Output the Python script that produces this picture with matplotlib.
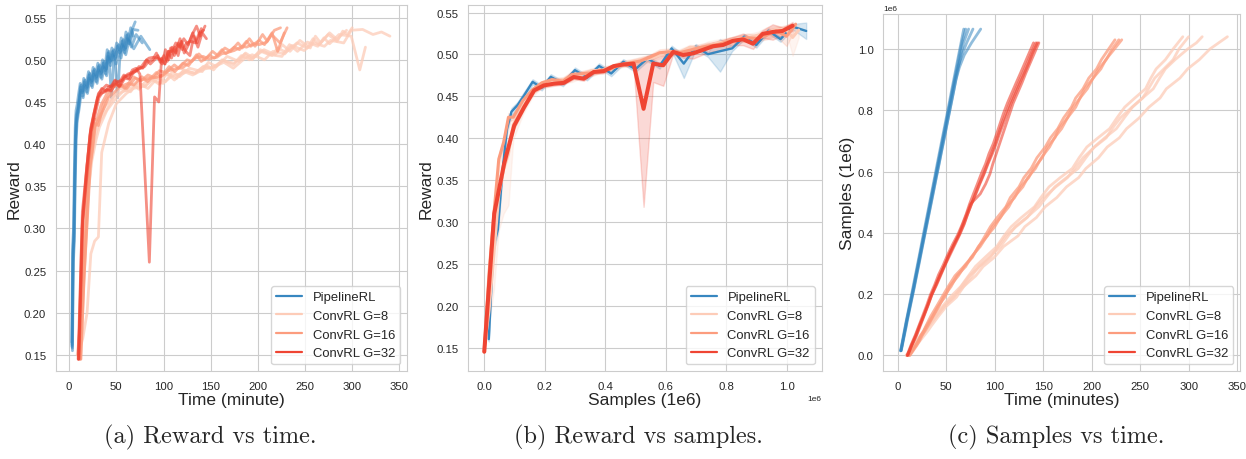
import numpy as np
import pandas as pd
import matplotlib
matplotlib.use("Agg")
import matplotlib.pyplot as plt
import seaborn as sns
from matplotlib.lines import Line2D

# ---------------- data (samples in millions, time in minutes) ----------------
methods = ["PipelineRL", "ConvRL G=8", "ConvRL G=16", "ConvRL G=32"]

# PipelineRL: 5 runs on a shared sample grid
samples_pipe = [0.015, 0.03, 0.045, 0.06, 0.075, 0.09, 0.11, 0.13,
                0.16, 0.19, 0.22, 0.26, 0.30, 0.34, 0.38, 0.42,
                0.46, 0.50, 0.54, 0.58, 0.62, 0.66, 0.70, 0.74,
                0.78, 0.82, 0.86, 0.90, 0.94, 0.98, 1.02, 1.065]
time_pipe = [
    [2.8, 3.7, 4.6, 5.5, 6.4, 7.3, 8.5, 9.8, 11.7, 13.6, 15.5, 18.0, 20.5, 23.0, 25.4, 27.9,
     30.4, 32.9, 35.4, 37.9, 40.3, 42.8, 45.3, 47.8, 50.3, 52.8, 55.2, 57.7, 60.2, 62.7, 65.2, 68.0],
    [3.0, 4.0, 4.9, 5.8, 6.7, 7.6, 8.8, 10.1, 12.1, 14.0, 16.0, 18.5, 21.0, 23.5, 26.0, 28.5,
     31.0, 33.5, 36.0, 38.5, 41.0, 43.5, 46.0, 48.5, 51.0, 53.5, 56.0, 58.5, 61.0, 63.5, 66.1, 70.0],
    [3.3, 4.3, 5.2, 6.2, 7.1, 8.1, 9.3, 10.6, 12.6, 14.6, 16.6, 19.1, 21.7, 24.2, 26.8, 29.3,
     31.9, 34.4, 37.0, 39.5, 42.1, 44.6, 47.2, 49.7, 52.3, 54.8, 57.4, 59.9, 62.5, 65.0, 67.8, 73.0],
    [3.1, 4.1, 5.0, 6.0, 6.9, 7.8, 9.0, 10.3, 12.3, 14.3, 16.3, 18.8, 21.3, 23.8, 26.3, 28.8,
     31.3, 33.8, 36.3, 38.8, 41.3, 43.8, 46.3, 48.8, 51.3, 53.8, 56.3, 58.8, 62.0, 66.0, 71.0, 77.5],
    [3.5, 4.5, 5.5, 6.4, 7.4, 8.4, 9.6, 10.9, 12.9, 14.9, 16.9, 19.4, 22.0, 24.5, 27.0, 29.6,
     32.1, 34.7, 37.2, 39.7, 42.3, 44.8, 47.4, 49.9, 52.4, 55.0, 57.5, 60.0, 63.5, 68.5, 76.0, 85.5],
]
reward_pipe = [
    [0.165, 0.28, 0.30, 0.37, 0.42, 0.44, 0.447, 0.458, 0.472, 0.465, 0.478, 0.47, 0.486, 0.477, 0.491, 0.482,
     0.496, 0.487, 0.5, 0.491, 0.512, 0.501, 0.514, 0.505, 0.52, 0.512, 0.526, 0.516, 0.533, 0.523, 0.538, 0.528],
    [0.16, 0.27, 0.285, 0.365, 0.415, 0.435, 0.44, 0.45, 0.468, 0.461, 0.474, 0.466, 0.482, 0.473, 0.487, 0.478,
     0.492, 0.483, 0.496, 0.487, 0.508, 0.497, 0.51, 0.501, 0.516, 0.508, 0.522, 0.512, 0.529, 0.519, 0.534, 0.545],
    [0.158, 0.265, 0.29, 0.355, 0.405, 0.43, 0.438, 0.452, 0.47, 0.463, 0.476, 0.468, 0.484, 0.475, 0.489, 0.48,
     0.494, 0.485, 0.498, 0.489, 0.51, 0.499, 0.512, 0.503, 0.518, 0.51, 0.524, 0.514, 0.531, 0.521, 0.536, 0.535],
    [0.162, 0.275, 0.295, 0.36, 0.41, 0.428, 0.437, 0.446, 0.464, 0.457, 0.47, 0.462, 0.478, 0.469, 0.483, 0.474,
     0.488, 0.479, 0.492, 0.483, 0.504, 0.493, 0.506, 0.497, 0.455, 0.504, 0.518, 0.508, 0.525, 0.515, 0.53, 0.52],
    [0.155, 0.26, 0.285, 0.35, 0.405, 0.425, 0.435, 0.444, 0.462, 0.455, 0.468, 0.46, 0.476, 0.467, 0.481, 0.472,
     0.486, 0.477, 0.49, 0.481, 0.502, 0.455, 0.504, 0.495, 0.51, 0.502, 0.516, 0.506, 0.523, 0.513, 0.528, 0.512],
]

# ConvRL G=8: 4 runs
samples_g8 = [0.0, 0.016, 0.032, 0.048, 0.064, 0.08, 0.096, 0.128,
              0.16, 0.19, 0.225, 0.26, 0.29, 0.32, 0.355, 0.39,
              0.42, 0.45, 0.485, 0.515, 0.55, 0.58, 0.61, 0.645,
              0.68, 0.71, 0.74, 0.775, 0.81, 0.84, 0.87, 0.905,
              0.935, 0.965, 1.0, 1.02, 1.04]
time_g8 = [
    [9.5, 13.0, 16.0, 19.5, 23.0, 27.0, 30.5, 38.0, 46.0, 54.0, 65.0, 73.0, 80.0, 90.0, 102.0, 109.5,
     117.0, 127.5, 141.0, 147.5, 156.0, 167.5, 180.0, 187.0, 195.0, 206.5, 218.5, 226.0, 234.0, 244.5,
     255.5, 261.0, 266.5, 276.0, 284.0, 289.0, 294.0],
    [9.0, 13.5, 17.0, 20.5, 24.0, 28.0, 31.5, 39.5, 47.5, 58.0, 65.5, 74.0, 84.5, 95.5, 103.5, 111.5,
     122.0, 133.5, 142.0, 150.5, 163.0, 175.0, 182.5, 191.0, 203.0, 215.0, 221.0, 229.5, 241.5, 252.5,
     258.5, 265.0, 274.5, 284.0, 290.0, 295.0, 300.0],
    [8.5, 12.5, 16.5, 20.0, 24.0, 28.5, 32.0, 40.0, 48.0, 56.5, 68.0, 76.5, 83.5, 94.0, 106.0, 114.0,
     121.0, 133.0, 145.5, 153.0, 162.0, 174.0, 186.0, 194.0, 202.5, 213.5, 225.5, 233.5, 242.0, 252.5,
     263.5, 270.0, 276.0, 286.0, 299.0, 308.0, 314.0],
    [9.5, 14.5, 19.0, 23.0, 27.0, 31.0, 34.5, 42.0, 50.0, 60.5, 68.0, 80.5, 88.0, 99.5, 109.0, 124.0,
     131.0, 143.0, 152.0, 164.0, 174.0, 186.5, 194.0, 207.0, 216.0, 228.5, 236.0, 249.0, 259.0, 270.5,
     277.0, 291.0, 299.0, 311.0, 322.0, 331.0, 340.0],
]
reward_g8 = [
    [0.15, 0.22, 0.3, 0.37, 0.4, 0.42, 0.43, 0.445, 0.455, 0.466, 0.462, 0.474, 0.468, 0.48, 0.474, 0.486,
     0.48, 0.49, 0.486, 0.497, 0.492, 0.504, 0.498, 0.508, 0.502, 0.512, 0.506, 0.518, 0.51, 0.523,
     0.514, 0.528, 0.52, 0.532, 0.524, 0.53, 0.535],
    [0.15, 0.2, 0.28, 0.35, 0.385, 0.41, 0.425, 0.44, 0.457, 0.463, 0.473, 0.465, 0.479, 0.471, 0.484, 0.476,
     0.488, 0.484, 0.492, 0.49, 0.499, 0.496, 0.505, 0.5, 0.51, 0.505, 0.514, 0.509, 0.52, 0.514,
     0.525, 0.518, 0.53, 0.522, 0.534, 0.53, 0.538],
    [0.15, 0.19, 0.27, 0.34, 0.38, 0.405, 0.42, 0.44, 0.452, 0.462, 0.468, 0.471, 0.466, 0.479, 0.483, 0.478,
     0.487, 0.484, 0.494, 0.488, 0.5, 0.494, 0.507, 0.5, 0.512, 0.506, 0.504, 0.518, 0.51, 0.521,
     0.516, 0.526, 0.519, 0.53, 0.528, 0.488, 0.515],
    [0.15, 0.17, 0.2, 0.27, 0.285, 0.29, 0.39, 0.425, 0.448, 0.46, 0.466, 0.469, 0.476, 0.472, 0.481, 0.485,
     0.482, 0.489, 0.491, 0.497, 0.49, 0.502, 0.506, 0.5, 0.51, 0.507, 0.517, 0.511, 0.52, 0.516,
     0.523, 0.52, 0.535, 0.536, 0.53, 0.533, 0.528],
]

# ConvRL G=16: 3 runs
samples_g16 = [0.0, 0.016, 0.032, 0.048, 0.064, 0.08, 0.096, 0.128,
               0.16, 0.19, 0.225, 0.26, 0.29, 0.32, 0.355, 0.39,
               0.42, 0.45, 0.485, 0.515, 0.55, 0.58, 0.61, 0.645,
               0.68, 0.71, 0.74, 0.775, 0.81, 0.84, 0.87, 0.905,
               0.935, 0.965, 1.0, 1.03]
time_g16 = [
    [11.5, 15.0, 18.0, 21.0, 23.5, 26.5, 29.0, 34.0, 40.0, 45.5, 52.0, 59.0, 68.0, 76.0, 83.5, 90.0,
     95.5, 102.5, 111.5, 116.0, 125.0, 130.0, 137.5, 143.5, 152.0, 157.5, 165.0, 171.0, 179.0, 183.5,
     191.0, 197.0, 205.0, 210.0, 217.5, 224.0],
    [12.0, 15.5, 18.5, 21.5, 24.0, 27.0, 29.5, 36.0, 41.5, 48.5, 53.5, 62.5, 68.5, 77.0, 83.0, 92.5,
     97.5, 106.0, 112.0, 120.5, 126.5, 135.0, 140.0, 149.0, 154.0, 162.0, 166.0, 175.0, 180.5, 188.0,
     192.5, 201.5, 207.0, 215.0, 221.0, 228.0],
    [12.5, 16.0, 19.5, 22.5, 25.0, 28.0, 31.0, 36.5, 42.5, 47.0, 55.0, 61.0, 70.0, 75.5, 85.0, 92.0,
     100.0, 105.5, 114.5, 119.5, 129.0, 134.0, 142.0, 148.0, 156.5, 161.5, 169.0, 175.0, 183.5, 188.0,
     195.5, 201.5, 209.5, 214.5, 223.5, 231.0],
]
reward_g16 = [
    [0.145, 0.24, 0.315, 0.38, 0.4, 0.43, 0.428, 0.447, 0.46, 0.468, 0.472, 0.466, 0.48, 0.475, 0.482, 0.479,
     0.487, 0.485, 0.494, 0.49, 0.5, 0.498, 0.507, 0.5, 0.51, 0.505, 0.514, 0.51, 0.52, 0.514,
     0.525, 0.516, 0.53, 0.522, 0.535, 0.538],
    [0.145, 0.235, 0.3, 0.37, 0.39, 0.42, 0.425, 0.44, 0.455, 0.462, 0.468, 0.472, 0.47, 0.48, 0.474, 0.485,
     0.48, 0.492, 0.486, 0.496, 0.493, 0.506, 0.498, 0.505, 0.502, 0.512, 0.507, 0.515, 0.512, 0.522,
     0.516, 0.523, 0.518, 0.532, 0.51, 0.532],
    [0.145, 0.245, 0.315, 0.375, 0.395, 0.425, 0.422, 0.448, 0.459, 0.468, 0.47, 0.466, 0.478, 0.476, 0.478, 0.479,
     0.482, 0.487, 0.49, 0.49, 0.498, 0.502, 0.504, 0.501, 0.503, 0.507, 0.509, 0.511, 0.516, 0.515,
     0.519, 0.518, 0.521, 0.53, 0.52, 0.538],
]

# ConvRL G=32: 4 runs
samples_g32 = [0.0, 0.033, 0.066, 0.099, 0.132, 0.165, 0.197, 0.23,
               0.263, 0.296, 0.329, 0.362, 0.395, 0.428, 0.461, 0.494,
               0.527, 0.559, 0.592, 0.625, 0.658, 0.691, 0.724, 0.757,
               0.79, 0.823, 0.856, 0.889, 0.921, 0.954, 0.987, 1.02]
time_g32 = [
    [10.5, 14.5, 19.0, 23.0, 27.0, 31.0, 35.0, 39.5, 44.0, 48.5, 53.0, 58.0, 63.0, 67.0, 71.0, 75.0,
     85.0, 90.5, 95.0, 98.0, 101.5, 105.0, 108.5, 112.0, 115.5, 119.0, 123.5, 128.0, 132.0, 136.5, 141.0, 145.5],
    [9.5, 13.5, 18.0, 22.0, 26.0, 30.0, 33.5, 38.0, 42.0, 47.0, 51.5, 56.5, 62.0, 66.5, 70.5, 74.0,
     78.0, 82.0, 86.0, 90.5, 94.0, 98.5, 102.0, 105.5, 109.0, 113.0, 117.5, 122.0, 126.5, 131.0, 135.5, 140.0],
    [10.0, 14.0, 18.5, 22.5, 27.0, 31.0, 34.5, 39.0, 43.5, 48.5, 53.0, 58.0, 63.5, 68.0, 72.0, 76.0,
     80.0, 84.0, 88.5, 92.5, 96.5, 100.5, 104.0, 107.5, 111.5, 115.5, 120.0, 124.5, 129.0, 133.5, 138.0, 142.5],
    [9.8, 14.5, 19.5, 23.5, 27.5, 31.5, 35.0, 40.0, 44.5, 49.0, 54.0, 59.0, 64.0, 68.5, 72.0, 76.0,
     80.5, 84.5, 89.0, 93.0, 97.5, 101.5, 105.0, 109.0, 113.0, 117.0, 121.5, 126.0, 130.5, 135.0, 139.0, 144.0],
]
reward_g32 = [
    [0.145, 0.31, 0.375, 0.42, 0.44, 0.46, 0.465, 0.47, 0.468, 0.476, 0.473, 0.482, 0.478, 0.488, 0.49, 0.483,
     0.26, 0.456, 0.45, 0.502, 0.495, 0.51, 0.502, 0.515, 0.505, 0.522, 0.51, 0.505, 0.528, 0.515, 0.532, 0.525],
    [0.145, 0.3, 0.365, 0.41, 0.435, 0.455, 0.46, 0.462, 0.468, 0.47, 0.474, 0.476, 0.483, 0.485, 0.486, 0.492,
     0.49, 0.5, 0.495, 0.5, 0.505, 0.495, 0.512, 0.5, 0.515, 0.508, 0.525, 0.508, 0.518, 0.532, 0.52, 0.537],
    [0.145, 0.32, 0.37, 0.415, 0.438, 0.458, 0.466, 0.463, 0.465, 0.475, 0.468, 0.48, 0.482, 0.484, 0.489, 0.49,
     0.492, 0.498, 0.5, 0.508, 0.497, 0.505, 0.498, 0.514, 0.505, 0.52, 0.512, 0.52, 0.522, 0.52, 0.532, 0.535],
    [0.145, 0.31, 0.37, 0.415, 0.435, 0.455, 0.461, 0.465, 0.463, 0.471, 0.469, 0.478, 0.477, 0.487, 0.487, 0.491,
     0.498, 0.502, 0.503, 0.502, 0.5, 0.495, 0.51, 0.51, 0.52, 0.515, 0.525, 0.518, 0.53, 0.54, 0.528, 0.54],
]

captions = ["(a) Reward vs time.", "(b) Reward vs samples.", "(c) Samples vs time."]

# ---------------- styling ----------------
colors = {"PipelineRL": "#3787c0", "ConvRL G=8": "#fdccb8",
          "ConvRL G=16": "#fc9c7e", "ConvRL G=32": "#ef4533"}
run_alpha = {"PipelineRL": 0.55, "ConvRL G=8": 0.75, "ConvRL G=16": 0.75, "ConvRL G=32": 0.6}
mean_lw = {"PipelineRL": 1.7, "ConvRL G=8": 2.2, "ConvRL G=16": 2.2, "ConvRL G=32": 2.9}

runs = {
    "PipelineRL": (samples_pipe, time_pipe, reward_pipe),
    "ConvRL G=8": (samples_g8, time_g8, reward_g8),
    "ConvRL G=16": (samples_g16, time_g16, reward_g16),
    "ConvRL G=32": (samples_g32, time_g32, reward_g32),
}

sns.set_style("whitegrid")
plt.rcParams["font.family"] = ["Liberation Sans", "DejaVu Sans"]

fig = plt.figure(figsize=(12.46, 4.6), dpi=100)
ax_a = fig.add_axes([0.0449, 0.1913, 0.2817, 0.7957])
ax_b = fig.add_axes([0.3758, 0.1913, 0.2836, 0.7957])
ax_c = fig.add_axes([0.7089, 0.1913, 0.2863, 0.776])

# (a) reward vs time, and (c) samples vs time, one line per run
for name in methods:
    samples, times, rewards = runs[name]
    for t, r in zip(times, rewards):
        ax_a.plot(t, r, color=colors[name], alpha=run_alpha[name], lw=2.0)
        ax_c.plot(t, np.array(samples) * 1e6, color=colors[name], alpha=run_alpha[name], lw=2.0)

# (b) reward vs samples, mean over runs with CI band
rows = []
for name in methods:
    samples, times, rewards = runs[name]
    for k, r in enumerate(rewards):
        for s, v in zip(samples, r):
            rows.append({"method": name, "run": k, "samples": s * 1e6, "reward": v})
df = pd.DataFrame(rows)
for name in methods:
    sns.lineplot(data=df[df["method"] == name], x="samples", y="reward",
                 color=colors[name], lw=mean_lw[name], errorbar=("ci", 95),
                 seed=0, ax=ax_b, legend=False)

handles = [Line2D([0], [0], color=colors[m], lw=1.6) for m in methods]

ax_a.set_xlim(-14, 358)
ax_a.set_ylim(0.131, 0.565)
ax_a.set_xticks(range(0, 351, 50))
ax_a.set_yticks(np.arange(0.15, 0.551, 0.05))
ax_a.set_xlabel("Time (minute)", fontsize=12.5, labelpad=1)
ax_a.set_ylabel("Reward", fontsize=12.5, labelpad=2)

ax_b.set_xlim(-0.053e6, 1.116e6)
ax_b.set_ylim(0.122, 0.559)
ax_b.set_xticks(np.arange(0, 1.01e6, 0.2e6))
ax_b.set_yticks(np.arange(0.15, 0.551, 0.05))
ax_b.set_xlabel("Samples (1e6)", fontsize=12.5, labelpad=1)
ax_b.set_ylabel("Reward", fontsize=12.5, labelpad=2)

ax_c.set_xlim(-15, 353)
ax_c.set_ylim(-0.051e6, 1.114e6)
ax_c.set_xticks(range(0, 351, 50))
ax_c.set_yticks(np.arange(0, 1.01e6, 0.2e6))
ax_c.set_xlabel("Time (minutes)", fontsize=12.5, labelpad=1)
ax_c.set_ylabel("Samples (1e6)", fontsize=12.5, labelpad=2)

for ax in (ax_a, ax_b, ax_c):
    ax.tick_params(labelsize=8.2)
    ax.xaxis.get_offset_text().set_fontsize(6)
    ax.yaxis.get_offset_text().set_fontsize(6)
    ax.legend(handles, methods, loc="lower right", fontsize=9.4)

for x, text in zip([0.169, 0.512, 0.848], captions):
    fig.text(x, 0.048, text, fontfamily="cmr10", fontsize=17.5, ha="center", va="center")

fig.savefig("out.png", dpi=100)
